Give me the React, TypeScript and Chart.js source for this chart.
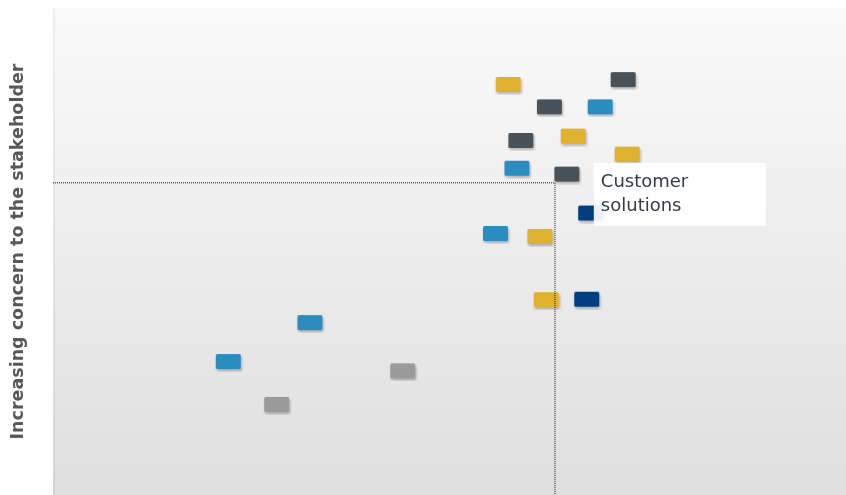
import React, { useEffect, useRef } from "react";
import { Chart, registerables } from "chart.js";

Chart.register(...registerables);

// ---- data (0–100 on both axes) ----
const seriesNames = ["Gold", "Slate", "Blue", "Navy", "Gray"];
const goldX = [57.4, 65.6, 72.4, 61.4, 62.2];
const goldY = [84.3, 73.7, 70.0, 53.1, 40.1];
const slateX = [71.9, 62.6, 59.0, 64.8];
const slateY = [85.3, 79.7, 72.8, 65.9];
const blueX = [69.0, 58.5, 55.8, 32.4, 22.1];
const blueY = [79.7, 67.1, 53.7, 35.4, 27.4];
const navyX = [67.8, 67.3];
const navyY = [57.9, 40.2];
const grayX = [44.1, 28.2];
const grayY = [25.5, 18.6];
const thresholdX = 63.3;
const thresholdY = 64.1;
const yAxisTitle = "Increasing concern to the stakeholder";
const calloutLines = ["Customer", "solutions"];
const calloutAt = { x: 68.2, y: 68.2 };

const seriesColors = ["#dfb12f", "#48525b", "#2a8cbf", "#013f80", "#9a9a9a"];
const seriesX = [goldX, slateX, blueX, navyX, grayX];
const seriesY = [goldY, slateY, blueY, navyY, grayY];

function makeMarker(color: string): HTMLCanvasElement {
  const c = document.createElement("canvas");
  c.width = 31;
  c.height = 21;
  const ctx = c.getContext("2d")!;
  ctx.shadowColor = "rgba(0,0,0,0.28)";
  ctx.shadowOffsetX = 1;
  ctx.shadowOffsetY = 2;
  ctx.shadowBlur = 3;
  ctx.fillStyle = color;
  const x = 3, y = 3, w = 25, h = 15, r = 1.5;
  ctx.beginPath();
  ctx.moveTo(x + r, y);
  ctx.lineTo(x + w - r, y);
  ctx.quadraticCurveTo(x + w, y, x + w, y + r);
  ctx.lineTo(x + w, y + h - r);
  ctx.quadraticCurveTo(x + w, y + h, x + w - r, y + h);
  ctx.lineTo(x + r, y + h);
  ctx.quadraticCurveTo(x, y + h, x, y + h - r);
  ctx.lineTo(x, y + r);
  ctx.quadraticCurveTo(x, y, x + r, y);
  ctx.closePath();
  ctx.fill();
  return c;
}

const bgPlugin = {
  id: "bgGradient",
  beforeDatasetsDraw(chart: any) {
    const { ctx, chartArea, width, height } = chart;
    const { left, top } = chartArea;
    const g = ctx.createLinearGradient(0, top, 0, height);
    g.addColorStop(0, "#fafafa");
    g.addColorStop(1, "#dfdfdf");
    ctx.save();
    ctx.fillStyle = g;
    ctx.fillRect(left, top, width - left, height - top);
    ctx.fillStyle = "rgba(0,0,0,0.045)";
    ctx.fillRect(left, top, 2, height - top);
    ctx.restore();
  },
};

const calloutPlugin = {
  id: "callout",
  afterDatasetsDraw(chart: any) {
    const { ctx } = chart;
    const px = chart.scales.x.getPixelForValue(calloutAt.x);
    const py = chart.scales.y.getPixelForValue(calloutAt.y);
    ctx.save();
    ctx.fillStyle = "rgba(255,255,255,0.93)";
    ctx.fillRect(px, py, 172, 63);
    ctx.fillStyle = "#343c48";
    ctx.font = "18px 'DejaVu Sans'";
    ctx.textBaseline = "middle";
    ctx.textAlign = "left";
    calloutLines.forEach((t, i) => ctx.fillText(t, px + 7, py + 19 + i * 24));
    ctx.restore();
  },
};

export default function App() {
  const ref = useRef<HTMLCanvasElement>(null);
  useEffect(() => {
    if (!ref.current) return;
    document.body.style.margin = "0";
    document.documentElement.style.overflow = "hidden";
    const markers = seriesColors.map(makeMarker);
    const datasets: any[] = [
      {
        label: "threshold",
        type: "line",
        data: [
          { x: 0, y: thresholdY },
          { x: thresholdX, y: thresholdY },
          { x: thresholdX, y: 0 },
        ],
        borderColor: "#1a1a1a",
        borderWidth: 1,
        borderDash: [1, 1],
        pointRadius: 0,
        showLine: true,
        fill: false,
        order: 0,
      },
      ...seriesNames.map((name, i) => ({
        label: name,
        data: seriesX[i].map((x, j) => ({ x, y: seriesY[i][j] })),
        pointStyle: markers[i],
        pointRadius: 8,
        backgroundColor: seriesColors[i],
        borderColor: seriesColors[i],
        order: 1,
      })),
    ];
    const chart = new Chart(ref.current, {
      type: "scatter",
      data: { datasets },
      options: {
        animation: false,
        responsive: false,
        layout: { padding: { left: 8, top: 8, right: 0, bottom: 0 }, autoPadding: false },
        plugins: { legend: { display: false }, tooltip: { enabled: false } },
        scales: {
          x: { type: "linear", min: 0, max: 100, display: false },
          y: {
            type: "linear",
            min: 0,
            max: 100,
            ticks: { display: false },
            grid: { display: false },
            border: { display: false },
            title: {
              display: true,
              text: yAxisTitle,
              color: "#585858",
              font: { family: "'DejaVu Sans'", size: 17.5, weight: "bold" },
              padding: { top: 0, bottom: 0 },
            },
            afterFit(scale: any) {
              scale.width = 45;
            },
          },
        },
      },
      plugins: [bgPlugin, calloutPlugin],
    });
    return () => chart.destroy();
  }, []);
  return (
    <div style={{ width: 846, height: 495 }}>
      <canvas ref={ref} width={846} height={495} style={{ display: "block" }} />
    </div>
  );
}
